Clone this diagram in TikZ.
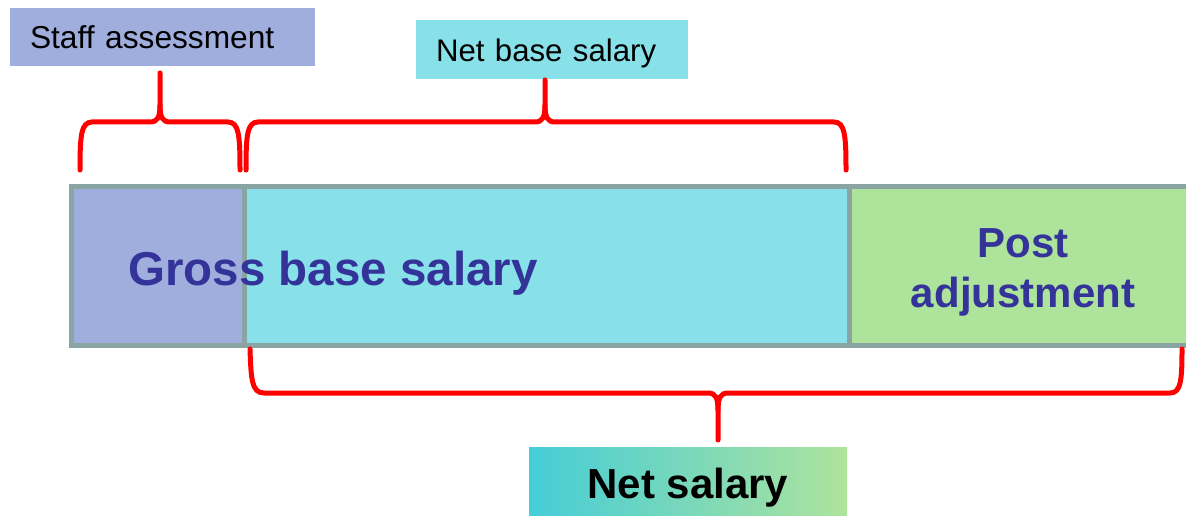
\documentclass[tikz,border=0pt]{standalone}
\usepackage{fontspec}
\setmainfont{Liberation Sans}
\definecolor{purp}{HTML}{9FAEDC}
\definecolor{cyanb}{HTML}{88E0E8}
\definecolor{greenb}{HTML}{AEE39C}
\definecolor{grayb}{HTML}{8AA4A4}
\definecolor{navy}{HTML}{333399}
\definecolor{gradl}{HTML}{45CDD8}
\tikzset{
  barpart/.style={draw=grayb, line width=5pt, inner sep=0pt, minimum height=158.5pt},
  labelbox/.style={inner xsep=20pt, inner ysep=0pt, align=left, text depth=0pt},
  bigtxt/.style={text=navy, font=\bfseries\fontsize{47.5}{57}\selectfont, inner sep=0pt, anchor=base},
  pa/.style={text=navy, font=\bfseries\fontsize{42}{50}\selectfont, inner sep=0pt, anchor=base},
  bracepath/.style={draw=red, line width=5pt, line cap=round, line join=round},
}
\begin{document}
\begin{tikzpicture}[x=1pt,y=-1pt]
\useasboundingbox (0,0) rectangle (1186,516);
% bar
\node[barpart, fill=purp, minimum width=173pt] (p1) at (157.5,265.75) {};
\node[barpart, fill=cyanb, minimum width=605pt] (p2) at (546.5,265.75) {};
\node[barpart, fill=greenb, minimum width=346pt] (p3) at (1022,265.75) {};
\node[bigtxt] (gross) at (333,285) {Gross base salary};
\node[pa] (post) at (1023,257) {Post};
\node[pa] (adj) at (1023,307) {adjustment};
% labels
\node[labelbox, fill=purp, font=\fontsize{31.7}{38}\selectfont, text width=265pt, minimum height=58pt, text height=23.6pt] (staff) at (162.5,37) {Staff assessment};
\node[labelbox, fill=cyanb, font=\fontsize{31.2}{38}\selectfont, text width=232pt, minimum height=59pt, text height=24.4pt] (nbs) at (552,49.5) {Net base salary};
\node[left color=gradl, right color=greenb, minimum width=318pt, minimum height=69pt, inner sep=0pt,
      font=\bfseries\fontsize{42}{50}\selectfont, text height=34pt, text depth=0pt] (net) at (688,481.5) {Net salary};
% braces
\coordinate (b1l) at (80,170);
\coordinate (b1t) at (160,73);
\coordinate (b1r) at (240,170);
\draw[bracepath] (b1l) .. controls (80,136) and (81,122) .. (92,122) -- (150,122)
  .. controls (157,122) and (160,118) .. (160,105) -- (b1t);
\draw[bracepath] (160,105) .. controls (160,118) and (163,122) .. (170,122) -- (228,122)
  .. controls (239,122) and (240,136) .. (b1r);
\coordinate (b2l) at (246,170);
\coordinate (b2t) at (545,80);
\coordinate (b2r) at (846,170);
\draw[bracepath] (b2l) .. controls (246,136) and (247,122) .. (258,122) -- (535,122)
  .. controls (542,122) and (545,118) .. (545,105) -- (b2t);
\draw[bracepath] (545,105) .. controls (545,118) and (548,122) .. (555,122) -- (834,122)
  .. controls (845,122) and (846,136) .. (b2r);
\coordinate (b3l) at (250,349);
\coordinate (b3t) at (718,440);
\coordinate (b3r) at (1182,349);
\draw[bracepath] (b3l) .. controls (251,380) and (252,393) .. (264,393) -- (708,393)
  .. controls (715,393) and (718,397) .. (718,410) -- (b3t);
\draw[bracepath] (718,410) .. controls (718,397) and (721,393) .. (728,393) -- (1170,393)
  .. controls (1181,393) and (1182,380) .. (b3r);
\end{tikzpicture}
\end{document}
